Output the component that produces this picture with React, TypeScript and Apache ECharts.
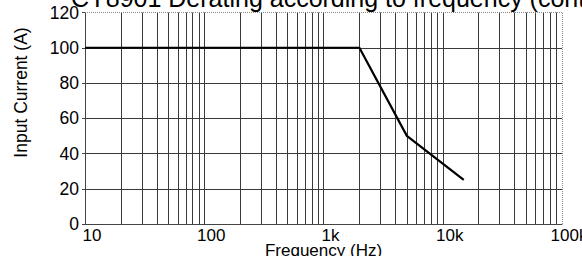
import React, { useEffect, useRef } from "react";
import * as echarts from "echarts";

const frequencies = [10, 2000, 5000, 15000];
const currents = [100, 100, 50, 25];
const xTickValues = [10, 100, 1000, 10000, 100000];
const xTickLabels = ["10", "100", "1k", "10k", "100k"];
const minorMultipliers = [2, 3, 4, 5, 6, 7, 8, 9];
const decades = [10, 100, 1000, 10000];
const titleText = "CY8901 Derating according to frequency (continuous)";
const xName = "Frequency (Hz)";
const yName = "Input Current (A)";

const FONT = '"Liberation Sans", Arial, Helvetica, sans-serif';
const GRID = "#3a3a3a";

export default function App() {
  const ref = useRef<HTMLDivElement>(null);
  useEffect(() => {
    document.body.style.margin = "0";
    const chart = echarts.init(ref.current!, undefined, { renderer: "svg" });
    const minorFreqs: number[] = [];
    decades.forEach((d) => minorMultipliers.forEach((m) => minorFreqs.push(d * m)));
    const labelFor = (v: number) => {
      const i = xTickValues.findIndex((t) => Math.abs(t - v) / t < 1e-6);
      return i >= 0 ? xTickLabels[i] : "";
    };
    chart.setOption({
      animation: false,
      backgroundColor: "#ffffff",
      textStyle: { fontFamily: FONT },
      grid: {
        left: 85,
        right: 20,
        top: 12.5,
        bottom: 32,
        containLabel: false,
        outerBoundsMode: "none",
      },
      graphic: [
        {
          type: "text",
          left: 71,
          top: -15,
          style: { text: titleText, font: `25px ${FONT}`, fill: "#000" },
          silent: true,
        },
        {
          type: "text",
          x: 21,
          y: 92.5,
          rotation: Math.PI / 2,
          style: {
            text: yName,
            font: `17.5px ${FONT}`,
            fill: "#000",
            align: "center",
            verticalAlign: "middle",
          },
          silent: true,
        },
      ],
      xAxis: {
        type: "log",
        logBase: 10,
        min: 10,
        max: 100000,
        name: xName,
        nameLocation: "middle",
        nameGap: 18,
        nameMoveOverlap: false,
        nameTextStyle: { fontSize: 17, color: "#000", fontFamily: FONT, verticalAlign: "top" },
        axisLine: { show: true, lineStyle: { color: "#444", width: 1 } },
        axisTick: { show: false },
        axisLabel: {
          fontSize: 17,
          color: "#000",
          fontFamily: FONT,
          margin: 3,
          padding: [0, 0, 0, 14],
          hideOverlap: false,
          formatter: (v: number) => labelFor(v),
        },
        splitLine: { show: true, showMaxLine: false, lineStyle: { color: GRID, width: 1 } },
      },
      yAxis: {
        type: "value",
        min: 0,
        max: 120,
        interval: 20,
        axisLine: { show: true, lineStyle: { color: "#444", width: 1 } },
        axisTick: { show: true, length: 3, lineStyle: { color: "#444" } },
        axisLabel: { fontSize: 17.5, color: "#000", fontFamily: FONT, margin: 6 },
        splitLine: { show: true, showMaxLine: false, lineStyle: { color: GRID, width: 1 } },
      },
      series: [
        {
          type: "line",
          data: [],
          z: 1,
          silent: true,
          markLine: {
            silent: true,
            symbol: "none",
            animation: false,
            label: { show: false },
            lineStyle: { color: GRID, width: 1, type: "solid" },
            data: [
              ...minorFreqs.map((f) => ({ xAxis: f })),
              { yAxis: 120, lineStyle: { color: "#888", type: "dotted", width: 1 } },
              { xAxis: 100000, lineStyle: { color: "#888", type: "dotted", width: 1 } },
            ],
          },
        },
        {
          type: "line",
          z: 5,
          data: frequencies.map((f, i) => [f, currents[i]]),
          showSymbol: false,
          symbol: "none",
          lineStyle: { color: "#000", width: 2.2 },
        },
      ],
    });
    return () => chart.dispose();
  }, []);
  return (
    <div
      ref={ref}
      style={{ position: "fixed", left: 0, top: 0, width: 582, height: 256 }}
    />
  );
}
